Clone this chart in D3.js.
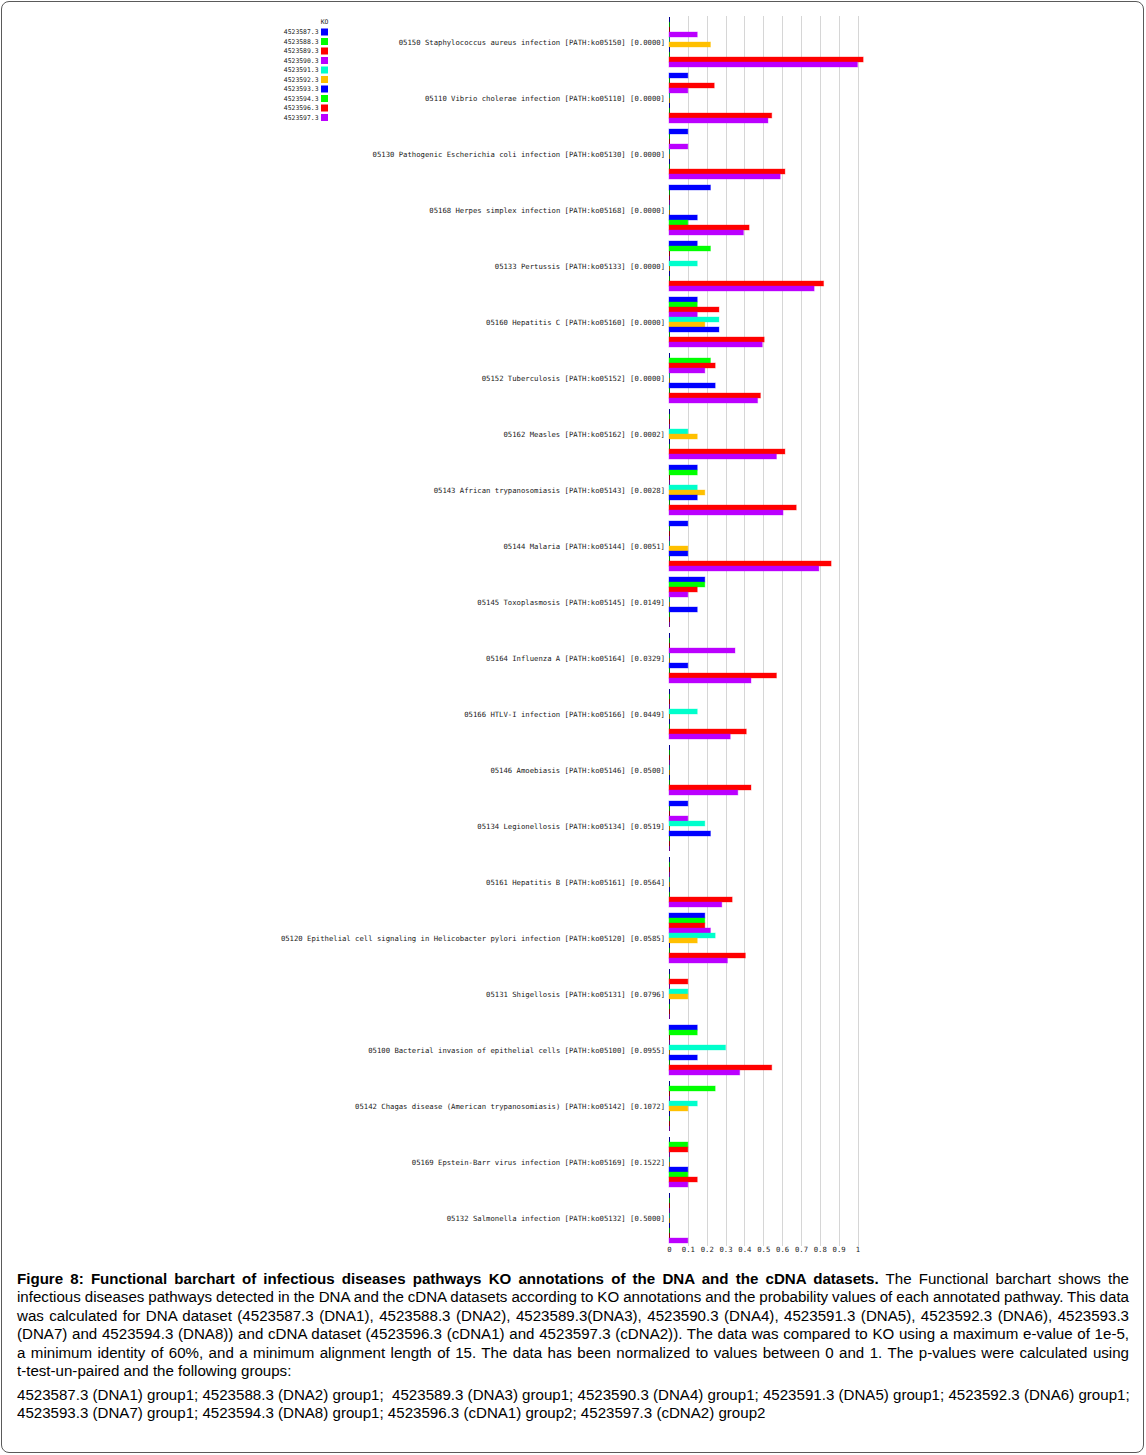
<!DOCTYPE html>
<html>
<head>
<meta charset="utf-8">
<script src="https://cdn.jsdelivr.net/npm/d3@7"></script>
<style>
  body { margin: 0; background: #fff; }
  #frame {
    position: absolute; left: 1px; top: 1px; width: 1141px; height: 1450px;
    border: 1px solid #5a5a5a; border-radius: 8px;
  }
  #chart { position: absolute; left: 0; top: 0; }
  .cap {
    position: absolute; left: 17px; width: 1112px;
    font-family: "Liberation Sans", Arial, sans-serif; font-size: 15.1px;
    line-height: 18.4px; color: #000;
  }
  .cap div { text-align: justify; text-align-last: justify; white-space: nowrap; }
  .cap div.last { text-align-last: left; }
  .cap div.tight { word-spacing: -0.6px; }
</style>
</head>
<body>
<div id="frame"></div>
<svg id="chart" width="1146" height="1262"></svg>
<div class="cap" id="cap1" style="top:1270px"></div>
<div class="cap" id="cap2" style="top:1386px"></div>
<script>
const categories = [
  "05150 Staphylococcus aureus infection [PATH:ko05150] [0.0000]",
  "05110 Vibrio cholerae infection [PATH:ko05110] [0.0000]",
  "05130 Pathogenic Escherichia coli infection [PATH:ko05130] [0.0000]",
  "05168 Herpes simplex infection [PATH:ko05168] [0.0000]",
  "05133 Pertussis [PATH:ko05133] [0.0000]",
  "05160 Hepatitis C [PATH:ko05160] [0.0000]",
  "05152 Tuberculosis [PATH:ko05152] [0.0000]",
  "05162 Measles [PATH:ko05162] [0.0002]",
  "05143 African trypanosomiasis [PATH:ko05143] [0.0028]",
  "05144 Malaria [PATH:ko05144] [0.0051]",
  "05145 Toxoplasmosis [PATH:ko05145] [0.0149]",
  "05164 Influenza A [PATH:ko05164] [0.0329]",
  "05166 HTLV-I infection [PATH:ko05166] [0.0449]",
  "05146 Amoebiasis [PATH:ko05146] [0.0500]",
  "05134 Legionellosis [PATH:ko05134] [0.0519]",
  "05161 Hepatitis B [PATH:ko05161] [0.0564]",
  "05120 Epithelial cell signaling in Helicobacter pylori infection [PATH:ko05120] [0.0585]",
  "05131 Shigellosis [PATH:ko05131] [0.0796]",
  "05100 Bacterial invasion of epithelial cells [PATH:ko05100] [0.0955]",
  "05142 Chagas disease (American trypanosomiasis) [PATH:ko05142] [0.1072]",
  "05169 Epstein-Barr virus infection [PATH:ko05169] [0.1522]",
  "05132 Salmonella infection [PATH:ko05132] [0.5000]",
];

const seriesNames = ["4523587.3", "4523588.3", "4523589.3", "4523590.3", "4523591.3",
  "4523592.3", "4523593.3", "4523594.3", "4523596.3", "4523597.3"];
const seriesColors = ["#0000ff", "#00ff00", "#ff0000", "#bb00ff", "#00ffcc",
  "#ffc000", "#0000ff", "#00ff00", "#ff0000", "#bb00ff"];

// one array per metagenome, same order as categories
const dna1 = [0, 0.1, 0.1, 0.22, 0.15, 0.15, 0, 0, 0.15, 0.1, 0.19, 0, 0, 0, 0.1, 0, 0.19, 0, 0.15, 0, 0, 0];
const dna2 = [0, 0, 0, 0, 0.22, 0.15, 0.22, 0, 0.15, 0, 0.19, 0, 0, 0, 0, 0, 0.19, 0, 0.15, 0.245, 0.1, 0];
const dna3 = [0, 0.24, 0, 0, 0, 0.265, 0.245, 0, 0, 0, 0.15, 0, 0, 0, 0, 0, 0.19, 0.1, 0, 0, 0.1, 0];
const dna4 = [0.15, 0.1, 0.1, 0, 0, 0.15, 0.19, 0, 0, 0, 0.1, 0.35, 0, 0, 0.1, 0, 0.22, 0, 0, 0, 0, 0];
const dna5 = [0, 0, 0, 0, 0.15, 0.265, 0, 0.1, 0.15, 0, 0, 0, 0.15, 0, 0.19, 0, 0.245, 0.1, 0.3, 0.15, 0, 0];
const dna6 = [0.22, 0, 0, 0, 0, 0.19, 0, 0.15, 0.19, 0.1, 0, 0, 0, 0, 0, 0, 0.15, 0.1, 0, 0.1, 0, 0];
const dna7 = [0, 0, 0, 0.15, 0, 0.265, 0.245, 0, 0.15, 0.1, 0.15, 0.1, 0, 0, 0.22, 0, 0, 0, 0.15, 0, 0.1, 0];
const dna8 = [0, 0, 0, 0.1, 0, 0, 0, 0, 0, 0, 0, 0, 0, 0, 0, 0, 0, 0, 0, 0, 0.1, 0];
const cdna1 = [1.03, 0.545, 0.615, 0.425, 0.82, 0.505, 0.485, 0.615, 0.675, 0.86, 0, 0.57, 0.41, 0.435, 0, 0.335, 0.405, 0, 0.545, 0, 0.15, 0];
const cdna2 = [1.0, 0.525, 0.59, 0.395, 0.77, 0.495, 0.47, 0.57, 0.605, 0.795, 0, 0.435, 0.325, 0.365, 0, 0.28, 0.31, 0, 0.375, 0, 0.1, 0.1];
const seriesValues = [dna1, dna2, dna3, dna4, dna5, dna6, dna7, dna8, cdna1, cdna2];

const xTicks = [0, 0.1, 0.2, 0.3, 0.4, 0.5, 0.6, 0.7, 0.8, 0.9, 1];

const svg = d3.select("#chart");
const monoFont = "'DejaVu Sans Mono', monospace";

const x = d3.scaleLinear().domain([0, 1]).range([669, 857.5]);
const y = d3.scaleBand().domain(categories).range([14, 14 + 56 * 22])
  .paddingInner(6 / 56).paddingOuter(3 / 56);
const ySub = d3.scaleBand().domain(seriesNames).range([0, y.bandwidth()]);

// grid
svg.append("g").selectAll("line")
  .data(xTicks.slice(1))
  .join("line")
  .attr("x1", (d) => Math.round(x(d)) + 0.5)
  .attr("x2", (d) => Math.round(x(d)) + 0.5)
  .attr("y1", 16)
  .attr("y2", 1246)
  .attr("stroke", "#d6d6d6")
  .attr("stroke-width", 1);

// bars
const rows = [];
categories.forEach((c, i) => {
  seriesNames.forEach((s, j) => {
    rows.push({ cat: c, series: s, value: seriesValues[j][i], color: seriesColors[j] });
  });
});

svg.append("g").selectAll("rect")
  .data(rows)
  .join("rect")
  .attr("x", x(0))
  .attr("y", (d) => y(d.cat) + ySub(d.series))
  .attr("width", (d) => Math.max(1, x(d.value) - x(0)))
  .attr("height", ySub.bandwidth())
  .attr("fill", (d) => d.value > 0 ? d.color : d3.color(d.color).darker(1.6))
  .attr("stroke", (d) => d.value > 0 ? d.color : "none")
  .attr("stroke-opacity", 0.35)
  .attr("stroke-width", 1);

// category labels
svg.append("g").selectAll("text")
  .data(categories)
  .join("text")
  .attr("x", 665)
  .attr("y", (d) => y(d) + y.bandwidth() / 2)
  .attr("dy", "0.35em")
  .attr("text-anchor", "end")
  .attr("font-family", monoFont)
  .attr("font-size", "7.25px")
  .attr("fill", "#1a1a1a")
  .text((d) => d);

// x axis
const axis = svg.append("g")
  .attr("transform", "translate(0,1246)")
  .call(d3.axisBottom(x).tickValues(xTicks).tickSize(0).tickPadding(1)
    .tickFormat((d) => d === 0 || d === 1 ? String(d) : d.toFixed(1)));
axis.select(".domain").remove();
axis.selectAll("text")
  .attr("font-family", monoFont)
  .attr("font-size", "7.25px")
  .attr("fill", "#1a1a1a");

// legend
const legend = svg.append("g");
legend.append("text")
  .attr("x", 324.5)
  .attr("y", 22)
  .attr("dy", "0.35em")
  .attr("text-anchor", "middle")
  .attr("font-family", monoFont)
  .attr("font-size", "6.4px")
  .attr("fill", "#1a1a1a")
  .text("KO");
seriesNames.forEach((s, i) => {
  const ly = 32 + i * 9.5;
  legend.append("rect")
    .attr("x", 321).attr("y", ly - 3.5)
    .attr("width", 7).attr("height", 7)
    .attr("fill", seriesColors[i]);
  legend.append("text")
    .attr("x", 318.5).attr("y", ly)
    .attr("dy", "0.35em")
    .attr("text-anchor", "end")
    .attr("font-family", monoFont)
    .attr("font-size", "6.4px")
    .attr("fill", "#1a1a1a")
    .text(s);
});

// caption
const capLines = [
  "<b>Figure 8: Functional barchart of infectious diseases pathways KO annotations of the DNA and the cDNA datasets.</b> The Functional barchart shows the",
  "infectious diseases pathways detected in the DNA and the cDNA datasets according to KO annotations and the probability values of each annotated pathway. This data",
  "was calculated for DNA dataset (4523587.3 (DNA1), 4523588.3 (DNA2), 4523589.3(DNA3), 4523590.3 (DNA4), 4523591.3 (DNA5), 4523592.3 (DNA6), 4523593.3",
  "(DNA7) and 4523594.3 (DNA8)) and cDNA dataset (4523596.3 (cDNA1) and 4523597.3 (cDNA2)). The data was compared to KO using a maximum e-value of 1e-5,",
  "a minimum identity of 60%, and a minimum alignment length of 15. The data has been normalized to values between 0 and 1. The p-values were calculated using",
  "t-test-un-paired and the following groups:",
];
const groupLines = [
  "4523587.3 (DNA1) group1; 4523588.3 (DNA2) group1;&nbsp; 4523589.3 (DNA3) group1; 4523590.3 (DNA4) group1; 4523591.3 (DNA5) group1; 4523592.3 (DNA6) group1;",
  "4523593.3 (DNA7) group1; 4523594.3 (DNA8) group1; 4523596.3 (cDNA1) group2; 4523597.3 (cDNA2) group2",
];
d3.select("#cap1").selectAll("div").data(capLines).join("div")
  .classed("last", (d, i) => i === capLines.length - 1)
  .classed("tight", (d, i) => i === 1)
  .html((d) => d);
d3.select("#cap2").selectAll("div").data(groupLines).join("div")
  .classed("last", (d, i) => i === groupLines.length - 1)
  .html((d) => d);
</script>
</body>
</html>
